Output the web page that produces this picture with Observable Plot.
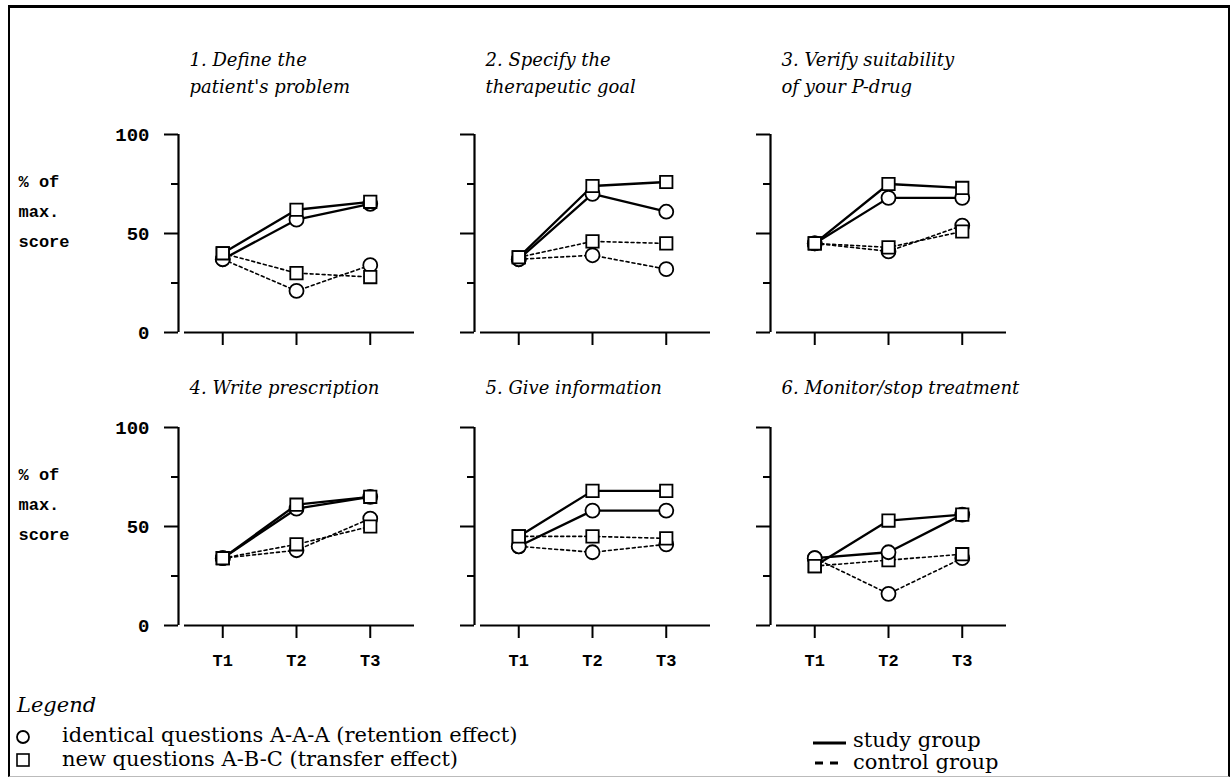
<!DOCTYPE html>
<html>
<head>
<meta charset="utf-8">
<script src="https://cdn.jsdelivr.net/npm/d3@7"></script>
<script src="https://cdn.jsdelivr.net/npm/@observablehq/plot@0.6"></script>
<style>
  html, body { margin: 0; padding: 0; background: #fff; }
  #wrap { position: relative; width: 1232px; height: 784px; overflow: hidden; background: #fff; }
  #frame { position: absolute; left: 8px; top: 5px; width: 1218px; height: 768px;
           border-left: 2px solid #000; border-right: 2px solid #000; border-top: 3px solid #000; border-bottom: 1px solid #bbb; }
  #chart { position: absolute; left: 0; top: 0; }
  .lg { position: absolute; font-family: "DejaVu Serif", serif; font-size: 21px; color: #000; line-height: 1; white-space: nowrap; }
  .lg.it { font-style: italic; }
  .sym { position: absolute; }
</style>
</head>
<body>
<div id="wrap">
  <div id="frame"></div>
  <div id="chart"></div>
  <div class="lg it" style="left:17px; top:695px;">Legend</div>
  <svg class="sym" style="left:14px; top:728px;" width="18" height="18"><circle cx="9" cy="9" r="6" fill="none" stroke="#000" stroke-width="1.8"/></svg>
  <div class="lg" id="lgCircle" style="left:62px; top:725px;"></div>
  <svg class="sym" style="left:14px; top:751px;" width="18" height="18"><rect x="3" y="3" width="12" height="12" fill="none" stroke="#000" stroke-width="1.6"/></svg>
  <div class="lg" id="lgSquare" style="left:62px; top:749px;"></div>
  <svg class="sym" style="left:810px; top:735px;" width="40" height="36">
    <line x1="3" x2="36" y1="8" y2="8" stroke="#000" stroke-width="3"/>
    <line x1="5" x2="30" y1="28" y2="28" stroke="#000" stroke-width="3" stroke-dasharray="8,7"/>
  </svg>
  <div class="lg" id="lgStudy" style="left:853px; top:730px;"></div>
  <div class="lg" id="lgControl" style="left:853px; top:752px;"></div>
</div>
<script>
// ---- data ----
const times = ["T1", "T2", "T3"];
const panelTitles = [
  "1. Define the\npatient's problem",
  "2. Specify the\ntherapeutic goal",
  "3. Verify suitability\nof your P-drug",
  "4. Write prescription",
  "5. Give information",
  "6. Monitor/stop treatment"
];
// % of max. score at T1, T2, T3 for each of the six panels
const studyCircle   = [[37, 57, 65], [37, 70, 61], [45, 68, 68], [34, 59, 65], [40, 58, 58], [34, 37, 56]];
const studySquare   = [[40, 62, 66], [38, 74, 76], [45, 75, 73], [34, 61, 65], [45, 68, 68], [30, 53, 56]];
const controlCircle = [[37, 21, 34], [37, 39, 32], [45, 41, 54], [34, 38, 54], [40, 37, 41], [34, 16, 34]];
const controlSquare = [[40, 30, 28], [38, 46, 45], [45, 43, 51], [34, 41, 50], [45, 45, 44], [30, 33, 36]];
const yMajorTicks = [0, 50, 100];
const yMinorTicks = [25, 75];
const yAxisLabel = "% of\nmax.\nscore";
const questionTypes = ["identical", "new"];
const groupNames = ["study", "control"];
const legendCircle = "identical questions A-A-A (retention effect)";
const legendSquare = "new questions A-B-C (transfer effect)";
const legendStudy = "study group";
const legendControl = "control group";

document.getElementById("lgCircle").textContent = legendCircle;
document.getElementById("lgSquare").textContent = legendSquare;
document.getElementById("lgStudy").textContent = legendStudy;
document.getElementById("lgControl").textContent = legendControl;

// ---- build long table ----
const records = [];
panelTitles.forEach((title, i) => {
  const series = [
    [groupNames[0], questionTypes[0], studyCircle[i]],
    [groupNames[0], questionTypes[1], studySquare[i]],
    [groupNames[1], questionTypes[0], controlCircle[i]],
    [groupNames[1], questionTypes[1], controlSquare[i]]
  ];
  for (const [group, question, vals] of series) {
    times.forEach((time, j) => records.push({
      col: i % 3, row: Math.floor(i / 3), t: j + 1, time, group, question,
      key: group + "-" + question, value: vals[j]
    }));
  }
});
const titles = panelTitles.map((title, i) => ({col: i % 3, row: Math.floor(i / 3), title}));
const yLabels = [0, 1].map(row => ({col: 0, row, label: yAxisLabel}));

const study = records.filter(d => d.group === "study");
const control = records.filter(d => d.group === "control");

// x as time index (1..3) with room on both sides, like the reference
const xDomain = [0.4, times.length + 0.6];
const yDomain = [0, 100];

const serif = "DejaVu Serif";
const mono = "Liberation Mono";

const chart = Plot.plot({
  width: 1232,
  height: 784,
  marginLeft: 177,
  marginRight: 226,
  marginTop: 133,
  marginBottom: 158,
  style: {background: "transparent", color: "#000"},
  fx: {domain: [0, 1, 2], axis: null, paddingInner: 0.204, paddingOuter: 0},
  fy: {domain: [0, 1], axis: null, paddingInner: 0.323, paddingOuter: 0},
  x: {domain: xDomain, axis: null},
  y: {domain: yDomain, axis: null},
  symbol: {domain: questionTypes, range: ["circle", "square"]},
  marks: [
    // axis lines
    Plot.ruleX([xDomain[0]], {y1: yDomain[0], y2: yDomain[1], stroke: "#000", strokeWidth: 2.2}),
    Plot.ruleY([yDomain[0]], {x1: xDomain[0], x2: xDomain[1], insetLeft: 6, stroke: "#000", strokeWidth: 2.2}),
    // y ticks in every panel
    Plot.axisY({ticks: yMajorTicks, tickSize: 14, tickFormat: () => "", label: null,
                facetAnchor: null, strokeWidth: 2}),
    Plot.axisY({ticks: yMinorTicks, tickSize: 7, tickFormat: () => "", label: null,
                facetAnchor: null, strokeWidth: 2}),
    // y tick labels only in left column
    Plot.axisY({ticks: yMajorTicks, tickSize: 0, tickPadding: 29, label: null, facetAnchor: "left",
                fontFamily: mono, fontSize: 19, fontWeight: "bold"}),
    // x ticks in every panel
    Plot.axisX({ticks: times.map((t, j) => j + 1), tickSize: 13, tickFormat: () => "", label: null,
                facetAnchor: null, strokeWidth: 2}),
    // x tick labels only in bottom row
    Plot.axisX({ticks: times.map((t, j) => j + 1), tickSize: 0, tickPadding: 28, label: null,
                facetAnchor: "bottom", tickFormat: d => times[d - 1],
                fontFamily: mono, fontSize: 17, fontWeight: "bold"}),
    // panel titles
    Plot.text(titles.filter(d => d.row === 0), {fx: "col", fy: "row", text: "title", frameAnchor: "top-left",
      textAnchor: "start", lineAnchor: "bottom", dx: 11, dy: -42, lineHeight: 1.5,
      fontFamily: serif, fontStyle: "italic", fontSize: 18}),
    Plot.text(titles.filter(d => d.row === 1), {fx: "col", fy: "row", text: "title", frameAnchor: "top-left",
      textAnchor: "start", lineAnchor: "bottom", dx: 11, dy: -34, lineHeight: 1.5,
      fontFamily: serif, fontStyle: "italic", fontSize: 18}),
    // "% of max. score"
    Plot.text(yLabels, {fx: "col", fy: "row", text: "label", frameAnchor: "top-left",
      textAnchor: "start", lineAnchor: "middle", dx: -160, dy: 73, lineHeight: 1.75,
      fontFamily: mono, fontSize: 17, fontWeight: 600}),
    // series lines
    Plot.line(control, {fx: "col", fy: "row", x: "t", y: "value", z: "key",
      stroke: "#000", strokeWidth: 1.6, strokeDasharray: "3,3"}),
    Plot.line(study, {fx: "col", fy: "row", x: "t", y: "value", z: "key",
      stroke: "#000", strokeWidth: 2.3}),
    // markers
    Plot.dot(control, {fx: "col", fy: "row", x: "t", y: "value", symbol: "question",
      r: 7, fill: "#fff", stroke: "#000", strokeWidth: 1.8}),
    Plot.dot(study, {fx: "col", fy: "row", x: "t", y: "value", symbol: "question",
      r: 7, fill: "#fff", stroke: "#000", strokeWidth: 1.8})
  ]
});
document.getElementById("chart").appendChild(chart);
</script>
</body>
</html>
